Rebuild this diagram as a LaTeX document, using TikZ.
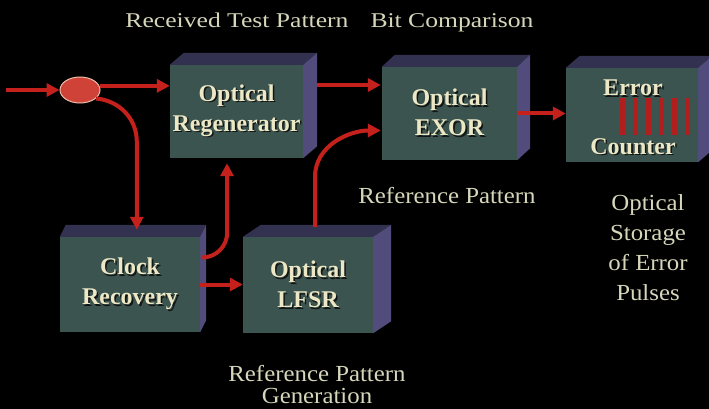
\documentclass[tikz,border=0pt]{standalone}
\usepackage{fontspec}
\setmainfont{Liberation Serif}
\newfontfamily\capfont[FakeStretch=1.22]{Liberation Serif}
\newfontfamily\notefont[FakeStretch=1.08]{Liberation Serif}
\usetikzlibrary{arrows.meta,calc,shapes.geometric}

\definecolor{frontc}{RGB}{60,84,80}
\definecolor{topc}{RGB}{50,50,80}
\definecolor{sidec}{RGB}{82,76,124}
\definecolor{inkc}{RGB}{236,232,198}
\definecolor{notec}{RGB}{214,214,186}
\definecolor{shadowc}{RGB}{18,22,20}
\definecolor{wirec}{RGB}{196,32,28}
\definecolor{barc}{RGB}{176,30,30}
\definecolor{tapc}{RGB}{206,66,56}
\definecolor{taprim}{RGB}{236,190,168}

% embossed lettering: a dark copy offset down-right behind the text
\newcommand\emb[1]{\leavevmode\rlap{\kern1.6pt\raisebox{-1.6pt}{\color{shadowc}#1}}#1}

% top and right faces of a block whose front face is node #1, depth #2
\newcommand\slab[2]{%
  \fill[topc] (#1.north west) -- ++(#2,-12) -- ($(#1.north east)+(#2,-12)$) -- (#1.north east) -- cycle;
  \fill[sidec] (#1.north east) -- ++(#2,-12) -- ($(#1.south east)+(#2,-12)$) -- (#1.south east) -- cycle;}

\begin{document}
\begin{tikzpicture}[x=1pt,y=-1pt,
  face/.style={fill=frontc, inner sep=0pt, text=inkc, align=center,
    font=\bfseries\fontsize{24}{30}\selectfont},
  boxword/.style={text=inkc, inner sep=0pt, font=\bfseries\fontsize{24}{30}\selectfont},
  note/.style={text=notec, inner sep=0pt, align=center},
  arr/.style={draw=wirec, line width=4pt, -{Triangle[length=13pt,width=13pt]}}]

\fill[black] (0,0) rectangle (709,409);
\useasboundingbox (0,0) rectangle (709,409);

% blocks
\node[face, minimum width=133pt, minimum height=93pt] (reg) at (236.5,111.5)
  {\emb{Optical}\\\emb{Regenerator}};
\node[face, minimum width=135pt, minimum height=93pt] (exor) at (449.5,113.5)
  {\emb{Optical}\\\emb{EXOR}};
\node[face, minimum width=132pt, minimum height=94pt] (cnt) at (632,115) {};
\node[face, minimum width=140pt, minimum height=95pt] (clk) at (130,284.5)
  {\emb{Clock}\\\emb{Recovery}};
\node[face, minimum width=130pt, minimum height=96pt] (lfsr) at (308,285)
  {\emb{Optical}\\\emb{LFSR}};
\slab{reg}{14}
\slab{exor}{13}
\slab{cnt}{14}
\slab{clk}{6}
\slab{lfsr}{18}

% error counter contents
\node[boxword, anchor=base] (err) at (633,96) {\emb{Error}};
\node[boxword, anchor=base] (ctr) at (633,154) {\emb{Counter}};
\foreach \i in {0,...,5}
  \fill[barc] (620+\i*13,98) rectangle ++(5,37);

% splitting tap
\node[ellipse, fill=tapc, draw=taprim, line width=1pt, minimum width=40pt,
  minimum height=26pt, inner sep=0pt] (tap) at (80,90) {};
\coordinate (src) at (6,90);

% optical paths
\draw[arr] (src) -- (tap.west);
\draw[arr] (tap.12) -- (tap.12 -| reg.west);
\draw[arr] (tap.-28) to[out=-5,in=90] ($(clk.north west)+(77,-95)$)
  -- ($(clk.north west)+(77,-7)$);
\draw[arr] ($(clk.east)+(2,-27)$) to[out=0,in=-90] ($(clk.east)+(27,-52)$)
  -- ($(reg.south)+(-9.5,5)$);
\draw[arr] (clk.east) -- (clk.east -| lfsr.west);
\draw[arr] ($(lfsr.north)+(7,-10)$) -- ($(lfsr.north)+(7,-60)$)
  to[out=90,in=180] ($(exor.west)+(-1,17)$);
\draw[arr] ($(reg.east)+(14,-26.5)$) -- ($(exor.west)+(-1,-28.5)$);
\draw[arr] (exor.east) -- (exor.east -| cnt.west);

% annotations
\node[note, anchor=base, font=\capfont\fontsize{21}{24}\selectfont] (rtp) at (237,28)
  {Received Test Pattern};
\node[note, anchor=base, font=\capfont\fontsize{21}{24}\selectfont] (bcmp) at (452,28)
  {Bit Comparison};
\node[note, anchor=base, font=\notefont\fontsize{23}{26}\selectfont] (refp) at (447,203)
  {Reference Pattern};
\node[note, font=\notefont\fontsize{23}{30}\selectfont] (store) at (648,248)
  {Optical\\Storage\\of Error\\Pulses};
\node[note, font=\notefont\fontsize{23}{22}\selectfont] (gen) at (317,385)
  {Reference Pattern\\Generation};
\end{tikzpicture}
\end{document}
